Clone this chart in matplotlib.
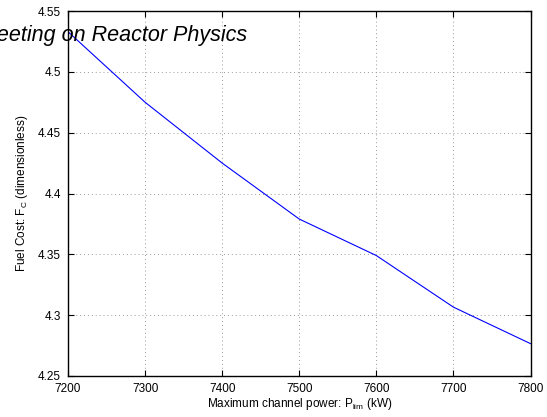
import matplotlib
matplotlib.use("Agg")
import matplotlib.pyplot as plt

plt.rcParams['font.family'] = ['Liberation Sans', 'DejaVu Sans']
plt.rcParams['mathtext.fontset'] = 'custom'
plt.rcParams['mathtext.rm'] = 'Liberation Sans'
plt.rcParams['mathtext.it'] = 'Liberation Sans:italic'

power_kw = [7200, 7300, 7400, 7500, 7600, 7700, 7800]
fuel_cost = [4.533, 4.475, 4.425, 4.379, 4.349, 4.3066, 4.2766]
x_ticks = [7200, 7300, 7400, 7500, 7600, 7700, 7800]
y_ticks = [4.25, 4.3, 4.35, 4.4, 4.45, 4.5, 4.55]
y_tick_labels = ['4.25', '4.3', '4.35', '4.4', '4.45', '4.5', '4.55']

W, H = 547, 417
fig = plt.figure(figsize=(W / 100, H / 100), dpi=100)
ax = fig.add_axes([68 / W, 1 - 376 / H, (530.5 - 68) / W, (376 - 11) / H])

ax.plot(power_kw, fuel_cost, color=(0, 0, 1), linewidth=0.8)
ax.set_xlim(7200, 7800)
ax.set_ylim(4.25, 4.55)
ax.set_xticks(x_ticks)
ax.set_xticklabels([str(v) for v in x_ticks])
ax.set_yticks(y_ticks)
ax.set_yticklabels(y_tick_labels)
ax.grid(True, linestyle=(0, (1, 3)), color='#999999', linewidth=0.7)
ax.tick_params(direction='in', length=4, width=0.8, top=True, right=True,
               labelsize=8.5, pad=5, colors='black')
for s in ax.spines.values():
    s.set_linewidth(1.0)
    s.set_color('black')

ax.set_xlabel(r'Maximum channel power: P$_{\mathrm{lim}}$ (kW)', fontsize=8.5, labelpad=1)
ax.set_ylabel(r'Fuel Cost: F$_{\mathrm{C}}$ (dimensionless)', fontsize=8.5, labelpad=6)

fig.text(247 / W, 1 - 41 / H, 'Meeting on Reactor Physics', ha='right', va='baseline',
         fontsize=15.5, style='italic')

fig.savefig('out.png', dpi=100)
